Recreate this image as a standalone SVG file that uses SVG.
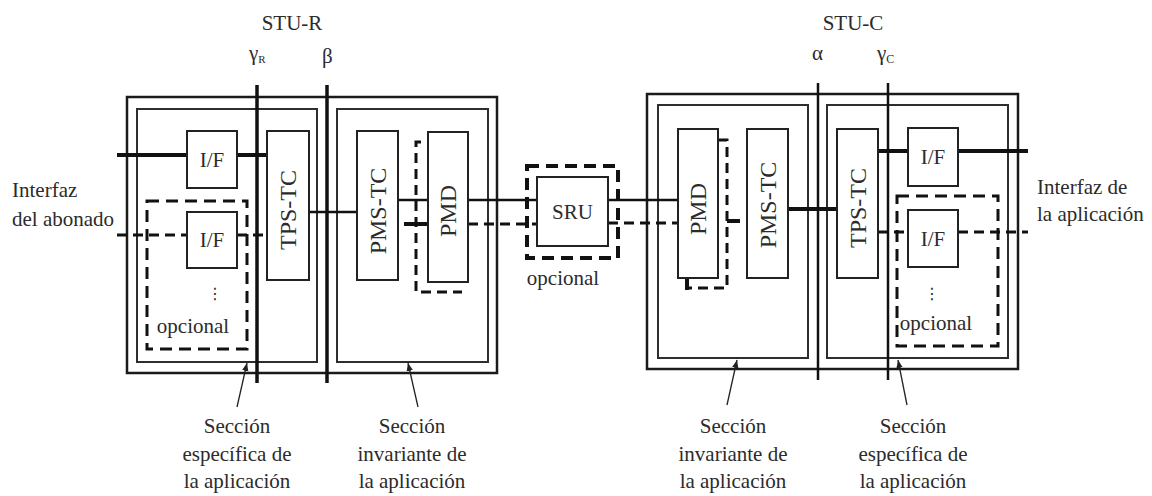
<svg xmlns="http://www.w3.org/2000/svg" width="1152" height="496" viewBox="0 0 1152 496" font-family="'Liberation Serif', 'DejaVu Serif', serif">
<defs>
<marker id="ah" viewBox="0 0 10 10" refX="10" refY="5" markerWidth="8" markerHeight="8" orient="auto" markerUnits="userSpaceOnUse"><path d="M0,1 L10,5 L0,9 z" fill="#222"/></marker>
<style>
text{font-family:'Liberation Serif','DejaVu Serif',serif}
.t{fill:#2b2b2b;font-size:21px}
.c{text-anchor:middle}
.rot{font-size:24px;text-anchor:middle}
text.dots{font-family:'DejaVu Sans',sans-serif;font-size:16px;fill:#2b2b2b;text-anchor:middle}
.box{fill:#fff;stroke:#222;stroke-width:2}
.outer{fill:none;stroke:#1a1a1a;stroke-width:2.5}
.inner{fill:none;stroke:#2e2e2e;stroke-width:2}
.ref{stroke:#111;stroke-width:3.5}
.ref2{stroke:#111;stroke-width:2.5}
.sig{stroke:#111;stroke-width:2.5;fill:none}
.sigT{stroke:#111;stroke-width:4;fill:none}
.dsh{stroke:#111;stroke-width:3;stroke-dasharray:10 6;fill:none}
.opt{stroke:#111;stroke-width:3;stroke-dasharray:12 7;fill:none}
.opt2{stroke:#111;stroke-width:4;stroke-dasharray:12 7;fill:none}
.arr{stroke:#222;stroke-width:1.3;fill:none;marker-end:url(#ah)}
</style>
</defs>
<rect width="1152" height="496" fill="#fff"/>

<g id="stu-r">
<rect class="outer" x="127" y="97" width="370" height="276"/>
<rect id="sec-especifica-r" class="inner" x="137" y="109" width="180" height="253"/>
<rect id="sec-invariante-r" class="inner" x="337" y="109" width="151" height="253"/>
</g>
<g id="stu-c">
<rect class="outer" x="647" y="94" width="371" height="275"/>
<rect id="sec-invariante-c" class="inner" x="658" y="105" width="150" height="253"/>
<rect id="sec-especifica-c" class="inner" x="827" y="105" width="181" height="253"/>
</g>

<g id="connectors">
<path class="sigT" d="M117,155 H187 M237,155 H267"/>
<path class="dsh" d="M117,235 H187 M237,235 H267"/>
<path class="sig" d="M309,212 H357"/>
<path class="sig" d="M398,200 H428 M468,200 H537 M608,200 H678"/>
<path class="dsh" d="M468,224 H537 M608,223 H678"/>
<path class="dsh" d="M421,142 H416 V292 H462"/>
<path class="sigT" d="M404,224 H428"/>
<path class="dsh" d="M718,140 H727 V288 H687"/>
<path class="sigT" d="M727,221 H740 M687,277 V290"/>
<path class="sigT" d="M788,209 H837"/>
<path class="sigT" d="M878,151 H908 M958,151 H1028"/>
<path class="dsh" d="M878,232 H908 M958,232 H1028"/>
<rect class="opt" x="147" y="201" width="100" height="148"/>
<rect class="opt" x="897" y="196" width="101" height="150"/>
<rect class="opt2" x="527" y="166" width="91" height="92"/>
<line class="ref" x1="257" y1="85" x2="257" y2="383"/>
<line class="ref" x1="327" y1="85" x2="327" y2="383"/>
<line class="ref2" x1="818" y1="83" x2="818" y2="380"/>
<line class="ref2" x1="888" y1="83" x2="888" y2="380"/>
<line class="arr" x1="237" y1="407" x2="247" y2="363"/>
<line class="arr" x1="418" y1="407" x2="408" y2="363"/>
<line class="arr" x1="727" y1="405" x2="737" y2="360"/>
<line class="arr" x1="907" y1="405" x2="898" y2="360"/>
</g>

<g id="if1-r"><rect class="box" x="187" y="131" width="50" height="57"/><text class="t c" x="212" y="167">I/F</text></g>
<g id="if2-r"><rect class="box" x="187" y="212" width="50" height="56"/><text class="t c" x="212" y="247">I/F</text></g>
<g id="tpstc-r"><rect class="box" x="267" y="131" width="42" height="149"/><text class="t rot" transform="translate(288,210) rotate(-90)" y="8">TPS-TC</text></g>
<g id="pmstc-r"><rect class="box" x="357" y="131" width="41" height="149"/><text class="t rot" transform="translate(377.5,211) rotate(-90)" y="8">PMS-TC</text></g>
<g id="pmd-r"><rect class="box" x="428" y="132" width="40" height="150"/><text class="t rot" transform="translate(448,211) rotate(-90)" y="8">PMD</text></g>
<g id="sru"><rect class="box" x="537" y="177" width="71" height="69"/><text class="t c" x="572.5" y="219">SRU</text></g>
<g id="pmd-c"><rect class="box" x="678" y="129" width="40" height="149"/><text class="t rot" transform="translate(698,209) rotate(-90)" y="8">PMD</text></g>
<g id="pmstc-c"><rect class="box" x="747" y="129" width="41" height="149"/><text class="t rot" transform="translate(767.5,205) rotate(-90)" y="8">PMS-TC</text></g>
<g id="tpstc-c"><rect class="box" x="837" y="129" width="41" height="149"/><text class="t rot" transform="translate(857.5,208) rotate(-90)" y="8">TPS-TC</text></g>
<g id="if1-c"><rect class="box" x="908" y="128" width="50" height="58"/><text class="t c" x="933" y="164">I/F</text></g>
<g id="if2-c"><rect class="box" x="908" y="210" width="50" height="57"/><text class="t c" x="933" y="246">I/F</text></g>

<g id="labels">
<text class="t c" x="292" y="30">STU-R</text>
<text class="t c" x="853" y="30">STU-C</text>
<text class="t" x="249" y="60">γ<tspan font-size="11" dy="3">R</tspan></text>
<text class="t" x="322" y="63">β</text>
<text class="t" x="812" y="60">α</text>
<text class="t" x="877" y="60">γ<tspan font-size="12" dy="3">C</tspan></text>
<text class="t" x="12" y="197">Interfaz</text>
<text class="t" x="12" y="226">del abonado</text>
<text class="t" x="1037" y="194">Interfaz de</text>
<text class="t" x="1037" y="221">la aplicación</text>
<text class="t c" x="193" y="333">opcional</text>
<text class="t c" x="563" y="285">opcional</text>
<text class="t c" x="936" y="330">opcional</text>
<text class="dots" x="215" y="299">⋮</text>
<text class="dots" x="932" y="299">⋮</text>
<text class="t c" x="237" y="433">Sección</text>
<text class="t c" x="237" y="461">específica de</text>
<text class="t c" x="237" y="488">la aplicación</text>
<text class="t c" x="412" y="433">Sección</text>
<text class="t c" x="412" y="461">invariante de</text>
<text class="t c" x="412" y="488">la aplicación</text>
<text class="t c" x="733" y="433">Sección</text>
<text class="t c" x="733" y="461">invariante de</text>
<text class="t c" x="733" y="488">la aplicación</text>
<text class="t c" x="913" y="433">Sección</text>
<text class="t c" x="913" y="461">específica de</text>
<text class="t c" x="913" y="488">la aplicación</text>
</g>
</svg>
